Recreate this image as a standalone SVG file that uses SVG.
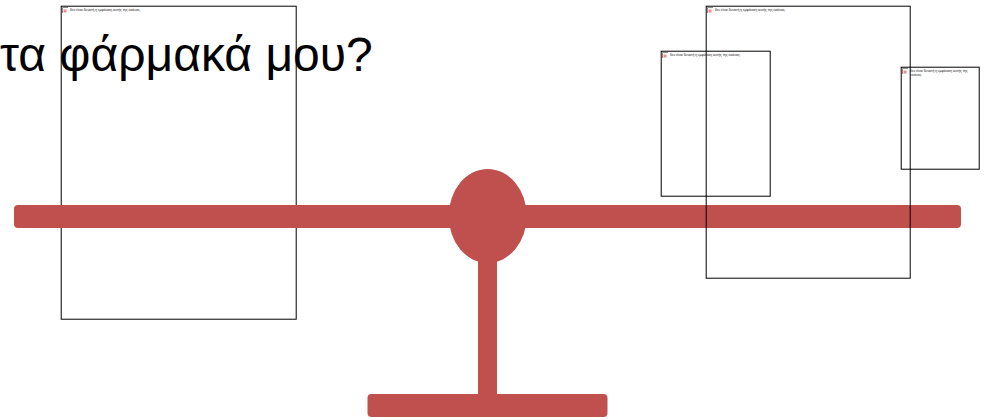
<svg xmlns="http://www.w3.org/2000/svg" width="988" height="420" viewBox="0 0 988 420">
<style>
.box{fill:none;stroke:#000;stroke-width:1}
.bar{fill:#c0504d}
.cap{font:3.4px "Liberation Sans",Arial,sans-serif;fill:#222}
.title{font:48px "Liberation Sans",Arial,sans-serif;fill:#000}
.ig{fill:none;stroke:#8c8c8c;stroke-width:1}
.ir{fill:#f08a8a}
</style>
<defs>
<g id="icon"><path class="ig" d="M0.5 6V0.5H6"/><rect class="ir" x="1.5" y="2.5" width="3" height="3"/></g>
</defs>
<text class="title" x="0" y="71">τα φάρμακά μου?</text>
<g id="img-left"><rect class="box" x="61.2" y="6.2" width="235" height="313"/><use href="#icon" x="62" y="7"/><text class="cap" x="70" y="11">δεν είναι δυνατή η εμφάνιση αυτής της εικόνας.</text></g>
<g id="scale">
<rect class="bar" x="14" y="205" width="947" height="23" rx="4"/>
<ellipse class="bar" cx="487.7" cy="216" rx="39" ry="47"/>
<rect class="bar" x="478" y="255" width="19" height="145"/>
<rect class="bar" x="367.5" y="394" width="240" height="23" rx="4"/>
</g>
<g id="img-right-large"><rect class="box" x="706.2" y="6.2" width="204" height="272"/><use href="#icon" x="707" y="7"/><text class="cap" x="715" y="11">δεν είναι δυνατή η εμφάνιση αυτής της εικόνας.</text></g>
<g id="img-right-mid"><rect class="box" x="661.2" y="51.2" width="109" height="145"/><use href="#icon" x="662" y="52"/><text class="cap" x="670" y="56">δεν είναι δυνατή η εμφάνιση αυτής της εικόνας.</text></g>
<g id="img-right-small"><rect class="box" x="901.2" y="67.2" width="78" height="102"/><use href="#icon" x="902" y="68"/><text class="cap" x="910" y="71.5">δεν είναι δυνατή η εμφάνιση αυτής της<tspan x="910" dy="4">εικόνας.</tspan></text></g>
</svg>
